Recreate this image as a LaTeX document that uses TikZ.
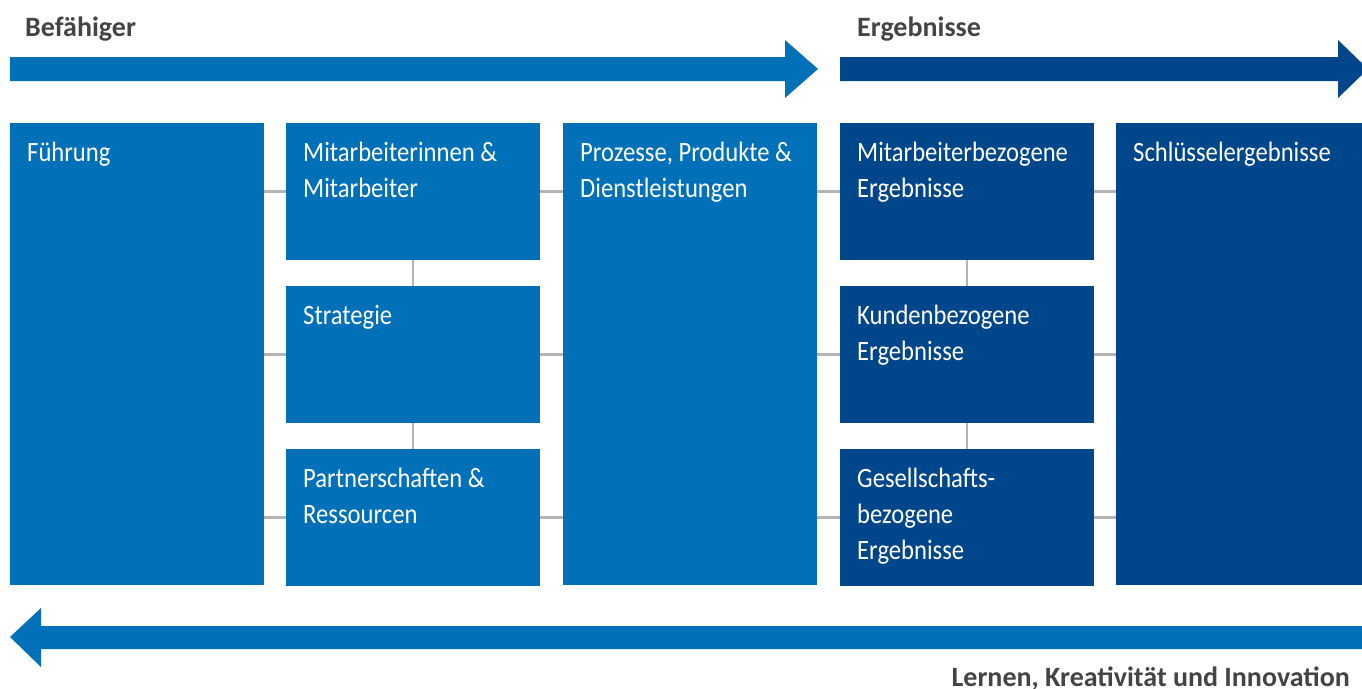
\documentclass[tikz,border=0pt]{standalone}
\usepackage{fontspec}
\setmainfont{Carlito}[FakeStretch=0.88, BoldFeatures={FakeStretch=1.0}]
\definecolor{efqmlight}{HTML}{0070B8}
\definecolor{efqmdark}{HTML}{00468A}
\definecolor{headgray}{HTML}{444444}
\definecolor{linkgray}{HTML}{B4B4B4}
\begin{document}
\begin{tikzpicture}[
    x=1pt, y=1pt,
    every node/.style={font=\fontsize{28}{36}\selectfont},
    box/.style={
        rectangle,
        inner sep=0pt,
        minimum width=253.5pt,
        anchor=north west
    },
    enabler/.style={box, fill=efqmlight},
    result/.style={box, fill=efqmdark},
    tall/.style={minimum height=462pt},
    short/.style={minimum height=137pt},
    boxtext/.style={
        anchor=north west,
        align=left,
        text=white,
        inner sep=0pt,
        xshift=17pt,
        yshift=-12.8pt
    },
    heading/.style={
        font=\fontsize{28}{36}\selectfont\bfseries,
        text=headgray,
        inner sep=0pt
    },
    link/.style={
        draw=linkgray,
        line width=2.5pt
    }
]
\useasboundingbox (0,0) rectangle (1362,-688);

% Pfeile
\fill[efqmlight] (10,-57) -- (785,-57) -- (785,-40) -- (818,-69) -- (785,-98) -- (785,-81) -- (10,-81) -- cycle;
\fill[efqmdark] (840,-57) -- (1338,-57) -- (1338,-40) -- (1368,-69) -- (1338,-98) -- (1338,-81) -- (840,-81) -- cycle;
\fill[efqmlight] (1362,-626) -- (41,-626) -- (41,-608) -- (10,-637) -- (41,-667) -- (41,-649) -- (1362,-649) -- cycle;

% Ueberschriften
\node[heading, anchor=base west] (befaehiger) at (25,-36) {Befähiger};
\node[heading, anchor=base west] (ergebnisse) at (857,-36) {Ergebnisse};
\node[heading, anchor=base east] (lernen) at (1350,-686) {Lernen, Kreativität und Innovation};

% Befaehiger
\node[enabler, tall] (fuehrung) at (10,-123) {};
\node[enabler, short] (mitarbeiter) at (286,-123) {};
\node[enabler, short] (strategie) at (286,-286) {};
\node[enabler, short] (partner) at (286,-449) {};
\node[enabler, tall] (prozesse) at (563,-123) {};

% Ergebnisse
\node[result, short] (mabez) at (840,-123) {};
\node[result, short] (kunden) at (840,-286) {};
\node[result, short] (gesell) at (840,-449) {};
\node[result, tall] (schluessel) at (1116,-123) {};

% Texte
\node[boxtext] (fuehrung-t) at (fuehrung.north west) {\strut Führung};
\node[boxtext] (mitarbeiter-t) at (mitarbeiter.north west) {\strut Mitarbeiterinnen \&\\Mitarbeiter};
\node[boxtext] (strategie-t) at (strategie.north west) {\strut Strategie};
\node[boxtext] (partner-t) at (partner.north west) {\strut Partnerschaften \&\\Ressourcen};
\node[boxtext] (prozesse-t) at (prozesse.north west) {\strut Prozesse, Produkte \&\\Dienstleistungen};
\node[boxtext] (mabez-t) at (mabez.north west) {\strut Mitarbeiterbezogene\\Ergebnisse};
\node[boxtext] (kunden-t) at (kunden.north west) {\strut Kundenbezogene\\Ergebnisse};
\node[boxtext] (gesell-t) at (gesell.north west) {\strut Gesellschafts-\\bezogene\\Ergebnisse};
\node[boxtext] (schluessel-t) at (schluessel.north west) {\strut Schlüsselergebnisse};

% Verbindungen
\draw[link] (fuehrung.east |- mitarbeiter.west) -- (mitarbeiter.west);
\draw[link] (fuehrung.east |- strategie.west) -- (strategie.west);
\draw[link] (fuehrung.east |- partner.west) -- (partner.west);
\draw[link] (mitarbeiter.east) -- (prozesse.west |- mitarbeiter.east);
\draw[link] (strategie.east) -- (prozesse.west |- strategie.east);
\draw[link] (partner.east) -- (prozesse.west |- partner.east);
\draw[link] (mitarbeiter.south) -- (strategie.north);
\draw[link] (strategie.south) -- (partner.north);
\draw[link] (prozesse.east |- mabez.west) -- (mabez.west);
\draw[link] (prozesse.east |- kunden.west) -- (kunden.west);
\draw[link] (prozesse.east |- gesell.west) -- (gesell.west);
\draw[link] (mabez.east) -- (schluessel.west |- mabez.east);
\draw[link] (kunden.east) -- (schluessel.west |- kunden.east);
\draw[link] (gesell.east) -- (schluessel.west |- gesell.east);
\draw[link] (mabez.south) -- (kunden.north);
\draw[link] (kunden.south) -- (gesell.north);

\end{tikzpicture}
\end{document}
